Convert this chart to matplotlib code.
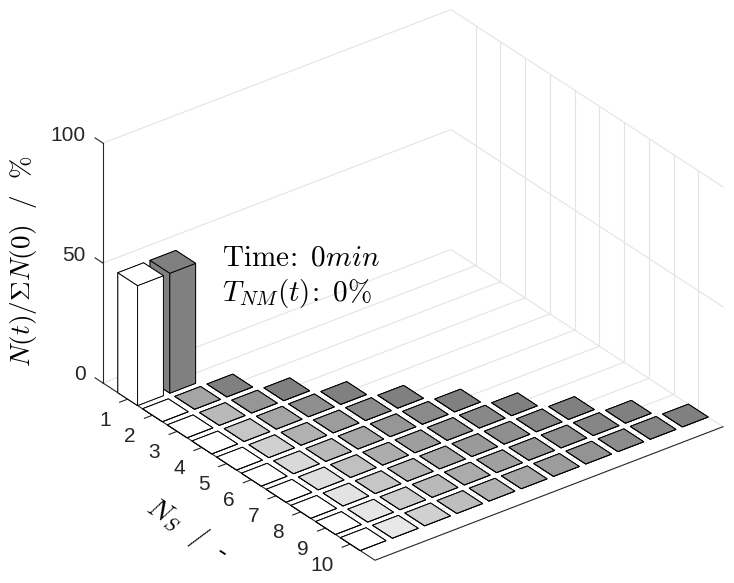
import matplotlib
matplotlib.use('Agg')
import matplotlib.pyplot as plt
from mpl_toolkits.mplot3d import proj3d

plt.rcParams['font.family'] = ['Liberation Sans', 'DejaVu Sans']
plt.rcParams['mathtext.fontset'] = 'cm'

# N_S on one axis, N_M on the other: row i holds i+1 bars
ns_values = [1, 2, 3, 4, 5, 6, 7, 8, 9, 10]
z_ticks = [0, 50, 100]
heights = [
    [50, 50],
    [0, 0, 0],
    [0, 0, 0, 0],
    [0, 0, 0, 0, 0],
    [0, 0, 0, 0, 0, 0],
    [0, 0, 0, 0, 0, 0, 0],
    [0, 0, 0, 0, 0, 0, 0, 0],
    [0, 0, 0, 0, 0, 0, 0, 0, 0],
    [0, 0, 0, 0, 0, 0, 0, 0, 0, 0],
    [0, 0, 0, 0, 0, 0, 0, 0, 0, 0, 0],
]
# grey level of every bar, read by eye
greys = [
    [255, 128],
    [255, 165, 128],
    [255, 185, 150, 128],
    [255, 198, 165, 143, 128],
    [255, 208, 177, 156, 140, 128],
    [255, 217, 185, 165, 150, 138, 128],
    [255, 222, 192, 173, 158, 146, 136, 128],
    [255, 227, 198, 180, 165, 154, 143, 135, 128],
    [255, 230, 204, 185, 171, 160, 150, 141, 134, 128],
    [255, 232, 208, 190, 177, 165, 156, 147, 140, 134, 128],
]

W, H = 734, 583
xmin, xmax = 0, 11
ymin, ymax = 0.6, 11.4
zmin, zmax = 0, 100
width = 0.8
GRID = '#e4e4e4'
AXC = '#262626'

fig = plt.figure(figsize=(W / 100, H / 100), dpi=100)
# axes much bigger than the figure, otherwise the marks get clipped to its square
ax = fig.add_axes([-0.5, -0.5, 2, 2], projection='3d', proj_type='ortho', computed_zorder=False)
ax.set_axis_off()
ax.patch.set_alpha(0)

# grid on the floor and the walls
for k in ns_values:
    ax.plot([k, k], [ymin, ymax], [0, 0], color=GRID, lw=0.8, zorder=1)
    ax.plot([k, k], [ymax, ymax], [zmin, zmax], color=GRID, lw=0.8, zorder=1)
for z in z_ticks:
    ax.plot([xmin, xmin, xmax], [ymin, ymax, ymax], [z, z, z], color=GRID, lw=0.8, zorder=1)

# back to front so the tall bars hide what is behind them
order = 3
cols = max(len(r) for r in heights)
for j in range(cols, 0, -1):
    for i in ns_values:
        if j <= len(heights[i - 1]):
            g = greys[i - 1][j - 1] / 255
            ax.bar3d(i - width / 2, j - width / 2, 0, width, width, heights[i - 1][j - 1],
                     color=(g, g, g), edgecolor='black', linewidth=0.65, shade=False, zorder=order)
            order += 1

# axis lines and ticks
ax.plot([xmin, xmax, xmax], [ymin, ymin, ymax], [0, 0, 0], color=AXC, lw=0.8, zorder=2)
ax.plot([xmin, xmin], [ymin, ymin], [zmin, zmax], color=AXC, lw=0.8, zorder=2)
for k in ns_values:
    ax.plot([k, k], [ymin, ymin - 0.25], [0, 0], color=AXC, lw=0.8, zorder=2)
for z in z_ticks:
    ax.plot([xmin, xmin - 0.32], [ymin, ymin], [z, z], color=AXC, lw=0.8, zorder=2)

ax.view_init(elev=30, azim=-37.5)
ax.set_xlim(xmin, xmax, view_margin=0)
ax.set_ylim(ymin, ymax, view_margin=0)
ax.set_zlim(zmin, zmax, view_margin=0)
box = (446.8, 438.6, 277)
ax.set_box_aspect(box)


def to_px(x, y, z):
    xs, ys, _ = proj3d.proj_transform(x, y, z, ax.get_proj())
    return ax.transData.transform((xs, ys))


# scale and shift the axes so the floor corners land where the reference has them
fig.canvas.draw()
p0 = to_px(xmin, ymin, 0)
p1 = to_px(xmax, ymin, 0)
ax.set_box_aspect(box, zoom=272.0 / (p1[0] - p0[0]))
fig.canvas.draw()
p0 = to_px(xmin, ymin, 0)
ax.set_position([-0.5 + (103 - p0[0]) / W, -0.5 + ((H - 383) - p0[1]) / H, 2, 2])
fig.canvas.draw()

# tick labels sit a fixed number of pixels from their ticks
for k in ns_values:
    px, py = to_px(k, ymin, 0)
    fig.text((px - 17) / W, (py - 21) / H, str(k), color=AXC, fontsize=15, ha='right', va='center')
for z in z_ticks:
    px, py = to_px(xmin, ymin, z)
    fig.text((px - 17) / W, (py + 8) / H, str(z), color=AXC, fontsize=15, ha='right', va='center')

tex_size = 21
fig.text(222 / W, 1 - 265 / H, r'$\mathrm{Time}\!:\ 0min$', fontsize=tex_size, color='black')
fig.text(222 / W, 1 - 301 / H, r'$T_{NM}(t)\!:\ 0\%$', fontsize=tex_size, color='black')
fig.text(24 / W, 1 - 261 / H, r'$N(t)/\Sigma N(0)\ \ /\ \ \%$', fontsize=19.6, rotation=90,
         ha='center', va='center', color='black')
fig.text(187 / W, 1 - 530 / H, r'$N_S\ \ /\ \ $-', fontsize=20, rotation=-33,
         rotation_mode='anchor', ha='center', va='center', color='black')

fig.savefig('out.png', dpi=100)
